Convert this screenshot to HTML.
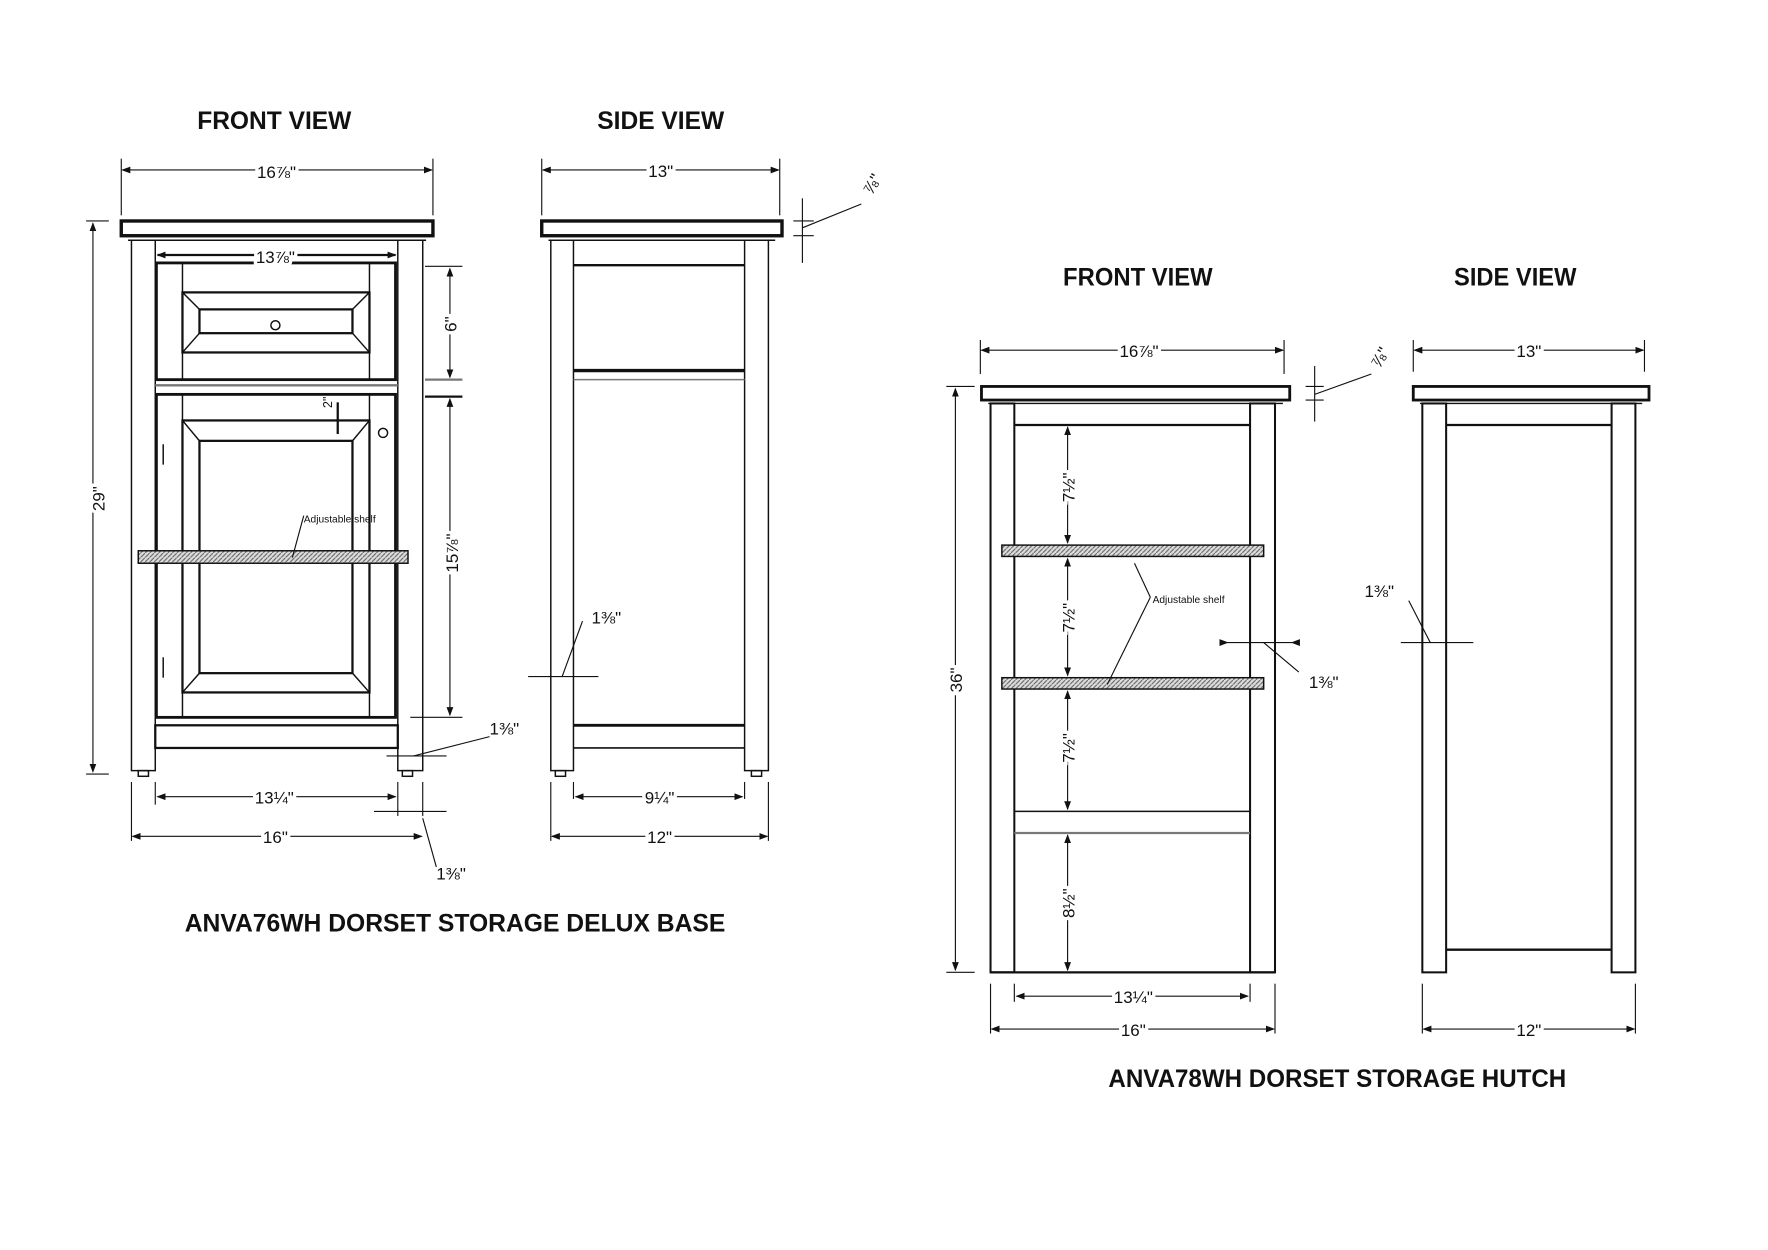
<!DOCTYPE html>
<html><head><meta charset="utf-8"><style>
html,body{margin:0;padding:0;background:#fff;}
svg{display:block}
text{font-family:"Liberation Sans Narrow","Liberation Sans",sans-serif;fill:#111}
.t{font-weight:bold;font-size:22px}
.d{font-size:15px}
.s{font-size:9px}
</style></head><body>
<svg width="1768" height="1250" viewBox="0 0 1560 1103" preserveAspectRatio="none" xmlns="http://www.w3.org/2000/svg">
<defs>
<pattern id="h" width="4" height="4" patternUnits="userSpaceOnUse"><rect width="4" height="4" fill="#ddd"/><path d="M0 4L4 0" stroke="#666" stroke-width="1"/></pattern>
<marker id="a" markerUnits="userSpaceOnUse" markerWidth="8" markerHeight="6" refX="7" refY="3" orient="auto"><path d="M0 0L8 3L0 6z" fill="#111"/></marker>
<marker id="b" markerUnits="userSpaceOnUse" markerWidth="8" markerHeight="6" refX="1" refY="3" orient="auto"><path d="M8 0L0 3L8 6z" fill="#111"/></marker>
</defs>
<g stroke="#111" fill="none" stroke-width="1.3">
<!-- LEFT FRONT -->
<rect x="107" y="195" width="275" height="13" stroke-width="3"/>
<line x1="113" y1="212" x2="376" y2="212"/>
<rect x="116" y="212" width="21" height="468"/>
<rect x="351" y="212" width="22" height="468"/>
<rect x="122" y="680" width="9" height="5"/><rect x="355" y="680" width="9" height="5"/>
<rect x="138" y="232" width="211" height="103" stroke-width="2.5"/>
<line x1="161" y1="232" x2="161" y2="335"/><line x1="326" y1="232" x2="326" y2="335"/>
<rect x="161" y="258" width="165" height="53" stroke-width="2"/>
<rect x="176" y="273" width="135" height="21" stroke-width="2"/>
<path d="M161 258L176 273M326 258L311 273M161 311L176 294M326 311L311 294"/>
<circle cx="243" cy="287" r="4"/>
<line x1="137" y1="340" x2="351" y2="340" stroke="#777" stroke-width="2"/>
<rect x="138" y="348" width="211" height="285" stroke-width="2.5"/>
<line x1="161" y1="348" x2="161" y2="633"/><line x1="326" y1="348" x2="326" y2="633"/>
<rect x="161" y="371" width="165" height="240" stroke-width="2"/>
<rect x="176" y="389" width="135" height="205" stroke-width="2"/>
<path d="M161 371L176 389M326 371L311 389M161 611L176 594M326 611L311 594"/>
<circle cx="338" cy="382" r="4"/>
<line x1="144" y1="392" x2="144" y2="410"/><line x1="144" y1="580" x2="144" y2="598"/>
<rect x="137" y="640" width="214" height="20" stroke-width="2"/>
<rect x="122" y="486" width="238" height="11" fill="url(#h)"/>
<!-- LEFT SIDE -->
<rect x="478" y="195" width="212" height="13" stroke-width="3"/>
<line x1="484" y1="212" x2="684" y2="212"/>
<rect x="486" y="212" width="20" height="468"/>
<rect x="657" y="212" width="21" height="468"/>
<rect x="490" y="680" width="9" height="5"/><rect x="663" y="680" width="9" height="5"/>
<line x1="506" y1="234" x2="657" y2="234" stroke-width="2"/>
<line x1="506" y1="327" x2="657" y2="327" stroke-width="3"/>
<line x1="506" y1="335" x2="657" y2="335" stroke="#777"/>
<line x1="506" y1="640" x2="657" y2="640" stroke-width="2.5"/>
<line x1="506" y1="660" x2="657" y2="660" stroke-width="1.5"/>
<!-- HUTCH FRONT -->
<rect x="866" y="341" width="272" height="12" stroke-width="2.5"/>
<line x1="872" y1="356" x2="1132" y2="356"/>
<rect x="874" y="356" width="21" height="502" stroke-width="1.8"/>
<rect x="1103" y="356" width="22" height="502" stroke-width="1.8"/>
<line x1="895" y1="375" x2="1103" y2="375" stroke-width="2"/>
<rect x="884" y="481" width="231" height="10" fill="url(#h)"/>
<rect x="884" y="598" width="231" height="10" fill="url(#h)"/>
<line x1="895" y1="716" x2="1103" y2="716"/>
<line x1="895" y1="735" x2="1103" y2="735" stroke="#777" stroke-width="2"/>
<line x1="874" y1="858" x2="1125" y2="858" stroke-width="2"/>
<!-- HUTCH SIDE -->
<rect x="1247" y="341" width="208" height="12" stroke-width="2.5"/>
<line x1="1253" y1="356" x2="1449" y2="356"/>
<rect x="1255" y="356" width="21" height="502" stroke-width="1.8"/>
<rect x="1422" y="356" width="21" height="502" stroke-width="1.8"/>
<line x1="1276" y1="375" x2="1422" y2="375" stroke-width="2"/>
<line x1="1276" y1="838" x2="1422" y2="838" stroke-width="2"/>
</g>
<!-- dimension lines -->
<g stroke="#111" stroke-width="1" fill="none">
<line x1="107" y1="140" x2="107" y2="190"/><line x1="382" y1="140" x2="382" y2="190"/>
<line x1="108" y1="150" x2="381" y2="150" marker-start="url(#b)" marker-end="url(#a)"/>
<line x1="478" y1="140" x2="478" y2="190"/><line x1="688" y1="140" x2="688" y2="190"/>
<line x1="479" y1="150" x2="687" y2="150" marker-start="url(#b)" marker-end="url(#a)"/>
<line x1="139" y1="225" x2="349" y2="225" marker-start="url(#b)" marker-end="url(#a)" stroke-width="2"/>
<line x1="76" y1="195" x2="96" y2="195"/><line x1="76" y1="683" x2="96" y2="683"/>
<line x1="82" y1="197" x2="82" y2="681" marker-start="url(#b)" marker-end="url(#a)"/>
<line x1="375" y1="235" x2="408" y2="235"/><line x1="375" y1="335" x2="408" y2="335" stroke="#777" stroke-width="2"/>
<line x1="397" y1="237" x2="397" y2="333" marker-start="url(#b)" marker-end="url(#a)"/>
<line x1="375" y1="350" x2="408" y2="350" stroke-width="2"/><line x1="362" y1="633" x2="408" y2="633"/>
<line x1="397" y1="352" x2="397" y2="631" marker-start="url(#b)" marker-end="url(#a)"/>
<line x1="298" y1="355" x2="298" y2="383" stroke-width="2"/>
<line x1="137" y1="690" x2="137" y2="710"/><line x1="351" y1="690" x2="351" y2="720"/><line x1="373" y1="690" x2="373" y2="720"/>
<line x1="139" y1="703" x2="349" y2="703" marker-start="url(#b)" marker-end="url(#a)"/>
<line x1="330" y1="716" x2="394" y2="716"/>
<line x1="116" y1="690" x2="116" y2="742"/>
<line x1="117" y1="738" x2="372" y2="738" marker-start="url(#b)" marker-end="url(#a)"/>
<line x1="373" y1="722" x2="385" y2="765"/>
<line x1="341" y1="667" x2="394" y2="667"/><line x1="365" y1="667" x2="432" y2="650"/>
<line x1="486" y1="690" x2="486" y2="742"/><line x1="678" y1="690" x2="678" y2="742"/>
<line x1="506" y1="690" x2="506" y2="705"/><line x1="657" y1="690" x2="657" y2="705"/>
<line x1="508" y1="703" x2="655" y2="703" marker-start="url(#b)" marker-end="url(#a)"/>
<line x1="487" y1="738" x2="677" y2="738" marker-start="url(#b)" marker-end="url(#a)"/>
<line x1="466" y1="597" x2="528" y2="597"/><line x1="496" y1="597" x2="514" y2="548"/>
<line x1="708" y1="175" x2="708" y2="232"/><line x1="700" y1="195" x2="718" y2="195"/><line x1="700" y1="208" x2="718" y2="208"/>
<line x1="708" y1="201" x2="760" y2="180"/>
<line x1="865" y1="300" x2="865" y2="330"/><line x1="1133" y1="300" x2="1133" y2="330"/>
<line x1="866" y1="309" x2="1132" y2="309" marker-start="url(#b)" marker-end="url(#a)"/>
<line x1="1247" y1="300" x2="1247" y2="328"/><line x1="1451" y1="300" x2="1451" y2="328"/>
<line x1="1248" y1="309" x2="1450" y2="309" marker-start="url(#b)" marker-end="url(#a)"/>
<line x1="1160" y1="323" x2="1160" y2="372"/><line x1="1152" y1="341" x2="1168" y2="341"/><line x1="1152" y1="353" x2="1168" y2="353"/>
<line x1="1160" y1="348" x2="1210" y2="330"/>
<line x1="835" y1="341" x2="860" y2="341"/><line x1="835" y1="858" x2="860" y2="858"/>
<line x1="843" y1="343" x2="843" y2="856" marker-start="url(#b)" marker-end="url(#a)"/>
<line x1="942" y1="377" x2="942" y2="479" marker-start="url(#b)" marker-end="url(#a)"/>
<line x1="942" y1="493" x2="942" y2="596" marker-start="url(#b)" marker-end="url(#a)"/>
<line x1="942" y1="610" x2="942" y2="714" marker-start="url(#b)" marker-end="url(#a)"/>
<line x1="942" y1="737" x2="942" y2="856" marker-start="url(#b)" marker-end="url(#a)"/>
<line x1="1001" y1="497" x2="1015" y2="527"/><line x1="1015" y1="527" x2="977" y2="604"/>
<line x1="1083" y1="567" x2="1140" y2="567" marker-start="url(#a)" marker-end="url(#b)"/>
<line x1="1115" y1="567" x2="1146" y2="593"/>
<line x1="1236" y1="567" x2="1300" y2="567"/><line x1="1243" y1="530" x2="1262" y2="567"/>
<line x1="874" y1="868" x2="874" y2="912"/><line x1="1125" y1="868" x2="1125" y2="912"/>
<line x1="895" y1="868" x2="895" y2="884"/><line x1="1103" y1="868" x2="1103" y2="884"/>
<line x1="897" y1="879" x2="1101" y2="879" marker-start="url(#b)" marker-end="url(#a)"/>
<line x1="875" y1="908" x2="1124" y2="908" marker-start="url(#b)" marker-end="url(#a)"/>
<line x1="1255" y1="868" x2="1255" y2="912"/><line x1="1443" y1="868" x2="1443" y2="912"/>
<line x1="1256" y1="908" x2="1442" y2="908" marker-start="url(#b)" marker-end="url(#a)"/>
<line x1="258" y1="492" x2="268" y2="455"/>
</g>
<!-- text -->
<text class="t" x="174" y="114" textLength="136" lengthAdjust="spacingAndGlyphs">FRONT VIEW</text>
<text class="t" x="527" y="114" textLength="112" lengthAdjust="spacingAndGlyphs">SIDE VIEW</text>
<text class="t" x="938" y="252" textLength="132" lengthAdjust="spacingAndGlyphs">FRONT VIEW</text>
<text class="t" x="1283" y="252" textLength="108" lengthAdjust="spacingAndGlyphs">SIDE VIEW</text>
<text class="t" x="163" y="822" textLength="477" lengthAdjust="spacingAndGlyphs">ANVA76WH DORSET STORAGE DELUX BASE</text>
<text class="t" x="978" y="959" textLength="404" lengthAdjust="spacingAndGlyphs">ANVA78WH DORSET STORAGE HUTCH</text>
<g class="d">
<text x="244" y="157" text-anchor="middle" fill="#111" style="paint-order:stroke;stroke:#fff;stroke-width:6px">16⅞"</text>
<text x="583" y="156" text-anchor="middle" style="paint-order:stroke;stroke:#fff;stroke-width:6px">13"</text>
<text x="243" y="232" text-anchor="middle" style="paint-order:stroke;stroke:#fff;stroke-width:6px">13⅞"</text>
<text x="242" y="709" text-anchor="middle" style="paint-order:stroke;stroke:#fff;stroke-width:6px">13¼"</text>
<text x="243" y="744" text-anchor="middle" style="paint-order:stroke;stroke:#fff;stroke-width:6px">16"</text>
<text x="582" y="709" text-anchor="middle" style="paint-order:stroke;stroke:#fff;stroke-width:6px">9¼"</text>
<text x="582" y="744" text-anchor="middle" style="paint-order:stroke;stroke:#fff;stroke-width:6px">12"</text>
<text x="445" y="648" text-anchor="middle">1⅜"</text>
<text x="398" y="776" text-anchor="middle">1⅜"</text>
<text x="535" y="550" text-anchor="middle">1⅜"</text>
<text transform="translate(92,440) rotate(-90)" text-anchor="middle" style="paint-order:stroke;stroke:#fff;stroke-width:6px">29"</text>
<text transform="translate(403,286) rotate(-90)" text-anchor="middle" style="paint-order:stroke;stroke:#fff;stroke-width:6px">6"</text>
<text transform="translate(404,488) rotate(-90)" text-anchor="middle" style="paint-order:stroke;stroke:#fff;stroke-width:6px">15⅞"</text>
<text transform="translate(293,355) rotate(-90)" text-anchor="middle" style="font-size:11px">2"</text>
<text transform="translate(774,165) rotate(-60)" text-anchor="middle">⅞"</text>
<text x="1005" y="315" text-anchor="middle" style="paint-order:stroke;stroke:#fff;stroke-width:6px">16⅞"</text>
<text x="1349" y="315" text-anchor="middle" style="paint-order:stroke;stroke:#fff;stroke-width:6px">13"</text>
<text transform="translate(1222,318) rotate(-60)" text-anchor="middle">⅞"</text>
<text transform="translate(849,600) rotate(-90)" text-anchor="middle" style="paint-order:stroke;stroke:#fff;stroke-width:6px">36"</text>
<text transform="translate(948,430) rotate(-90)" text-anchor="middle" style="paint-order:stroke;stroke:#fff;stroke-width:6px">7½"</text>
<text transform="translate(948,545) rotate(-90)" text-anchor="middle" style="paint-order:stroke;stroke:#fff;stroke-width:6px">7½"</text>
<text transform="translate(948,660) rotate(-90)" text-anchor="middle" style="paint-order:stroke;stroke:#fff;stroke-width:6px">7½"</text>
<text transform="translate(948,797) rotate(-90)" text-anchor="middle" style="paint-order:stroke;stroke:#fff;stroke-width:6px">8½"</text>
<text x="1168" y="607" text-anchor="middle">1⅜"</text>
<text x="1217" y="527" text-anchor="middle">1⅜"</text>
<text x="1000" y="885" text-anchor="middle" style="paint-order:stroke;stroke:#fff;stroke-width:6px">13¼"</text>
<text x="1000" y="914" text-anchor="middle" style="paint-order:stroke;stroke:#fff;stroke-width:6px">16"</text>
<text x="1349" y="914" text-anchor="middle" style="paint-order:stroke;stroke:#fff;stroke-width:6px">12"</text>
</g>
<text class="s" x="268" y="461">Adjustable shelf</text>
<text class="s" x="1017" y="532">Adjustable shelf</text>
</svg>
</body></html>
